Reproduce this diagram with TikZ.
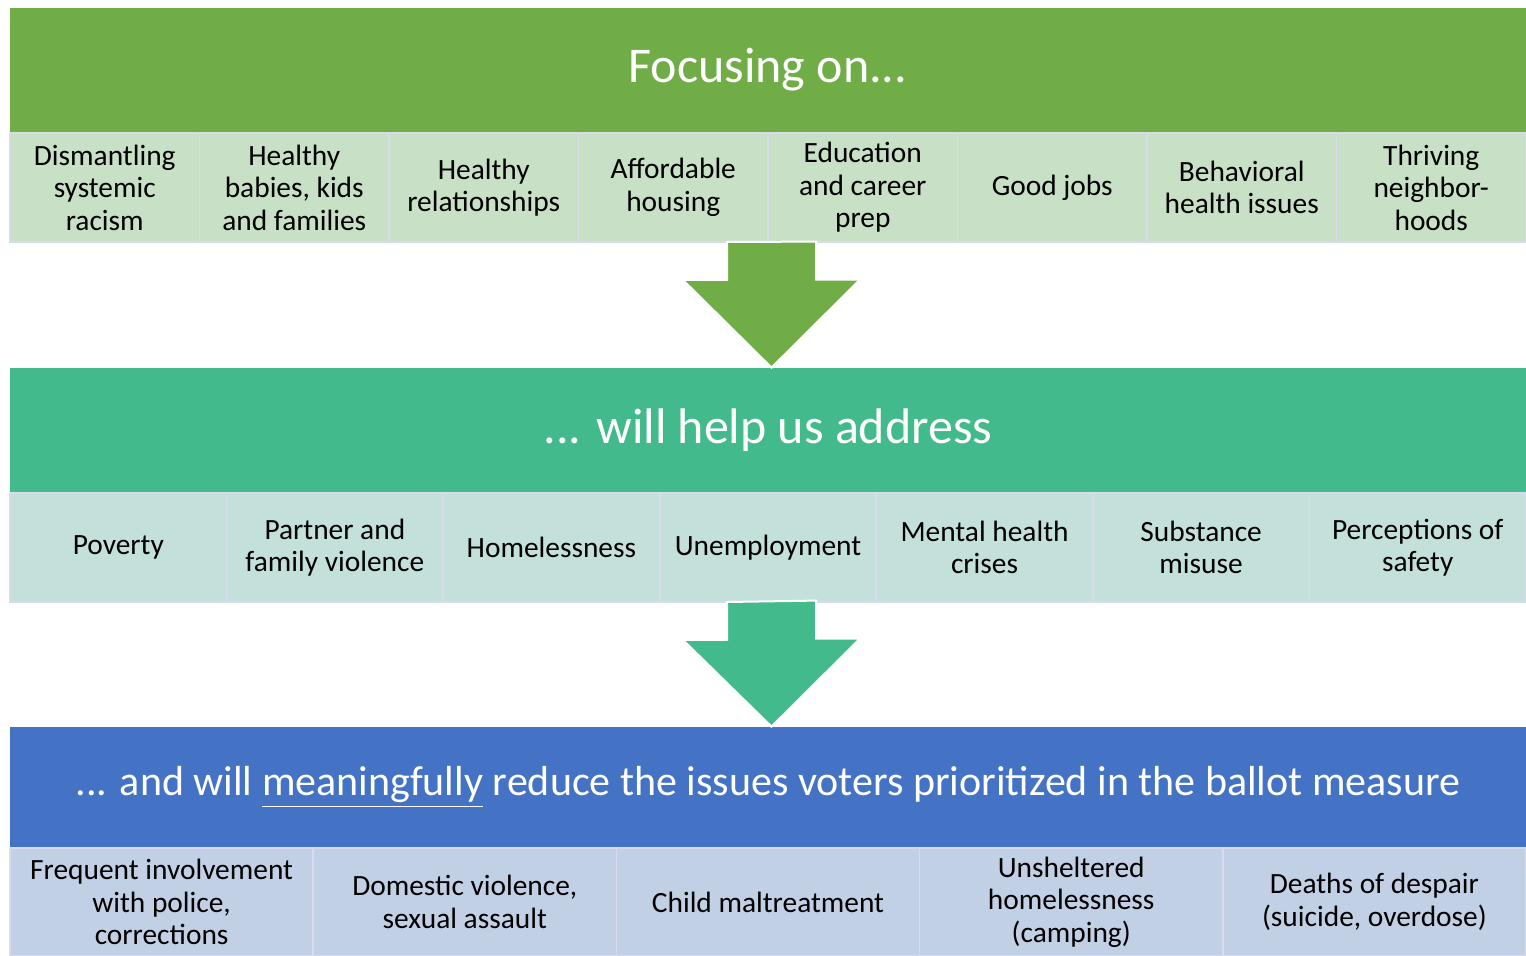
\documentclass[tikz,border=0pt]{standalone}
\usepackage{fontspec}
\setmainfont{Carlito}
\usepackage{tikz}

\definecolor{focusgreen}{HTML}{70AD47}
\definecolor{focuscell}{HTML}{C8E0C6}
\definecolor{helpteal}{HTML}{43BA8C}
\definecolor{helpcell}{HTML}{C3E1DA}
\definecolor{reduceblue}{HTML}{4472C4}
\definecolor{reducecell}{HTML}{C2D0E6}
\definecolor{cellline}{HTML}{D8DBEC}

\begin{document}
\begin{tikzpicture}[x=0.5pt,y=-0.5pt]
    \tikzstyle{every node}+=[inner sep=0pt]
    \tikzstyle{bar}=[minimum width=758pt, text=white, font=\fontsize{25}{30}\selectfont]
    \tikzstyle{cell}=[draw=cellline, line width=0.8pt, align=center, font=\fontsize{14.7}{16.25}\selectfont]
    \tikzstyle{downarrow}=[draw=white, line width=1pt, line join=miter]
    \useasboundingbox (0,0) rectangle (1526,956);
    % first band: what we focus on
    \node [bar, fill=focusgreen, minimum height=62pt] (focus) at (768,70) {Focusing on...};
    \foreach \t [count=\i] in {{Dismantling\\systemic\\racism}, {Healthy\\babies, kids\\and families}, {Healthy\\relationships}, {Affordable\\housing}, {Education\\and career\\prep}, {Good jobs}, {Behavioral\\health issues}, {Thriving\\neighbor-\\hoods}}
        \node [cell, fill=focuscell, minimum width=94.75pt, minimum height=54.5pt] (fc\i) at ({10+(\i-0.5)*189.5},187.5) {\t};
    % second band: what it addresses
    \node [bar, fill=helpteal, minimum height=62pt] (help) at (768,430) {... will help us address};
    \foreach \t [count=\i] in {{Poverty}, {Partner and\\family violence}, {Homelessness}, {Unemployment}, {Mental health\\crises}, {Substance\\misuse}, {Perceptions of\\safety}}
        \node [cell, fill=helpcell, minimum width=108.29pt, minimum height=54.5pt] (hc\i) at ({10+(\i-0.5)*216.57},547.5) {\t};
    % third band: what it reduces
    \node [bar, fill=reduceblue, minimum height=60pt, font=\fontsize{21}{25}\selectfont] (reduce) at (768,787) {... and will \underline{meaningfully} reduce the issues voters prioritized in the ballot measure};
    \foreach \t [count=\i] in {{Frequent involvement\\with police,\\corrections}, {Domestic violence,\\sexual assault}, {Child maltreatment}, {Unsheltered\\homelessness\\(camping)}, {Deaths of despair\\(suicide, overdose)}}
        \node [cell, fill=reducecell, minimum width=151.6pt, minimum height=54pt] (rc\i) at ({10+(\i-0.5)*303.2},902) {\t};
    % arrows between the bands
    \coordinate (arr1) at (771.5,242);
    \coordinate (arr2) at (771.5,602);
    \foreach \a/\c/\b in {arr1/focusgreen/help, arr2/helpteal/reduce}
        \filldraw [downarrow, fill=\c] (\a) ++(-44.5,0) -- ++(0,38) -- ++(-44,0) -- (\a |- \b.north) -- ++(88.5,-88) -- ++(-44,0) -- ++(0,-38) -- cycle;
\end{tikzpicture}
\end{document}
